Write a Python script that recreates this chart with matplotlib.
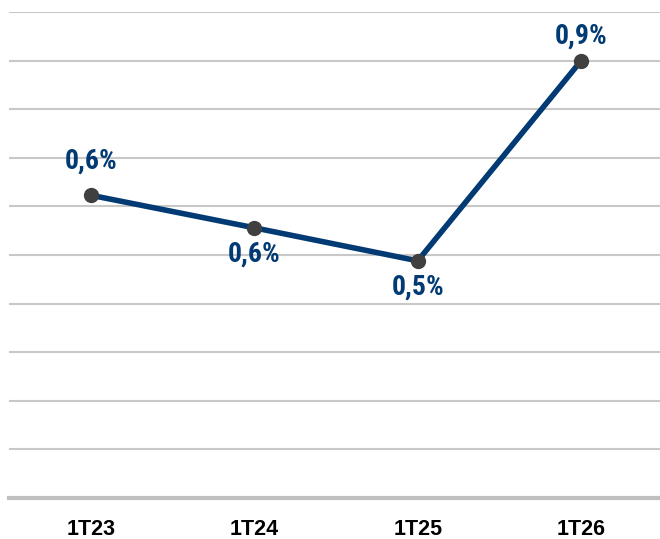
import matplotlib.pyplot as plt
from matplotlib import font_manager

# data
quarters = ['1T23', '1T24', '1T25', '1T26']
rate = [0.623, 0.556, 0.488, 0.90]

names = {f.name for f in font_manager.fontManager.ttflist}
label_font = 'Roboto'
for cand in ['Roboto Condensed', 'Liberation Sans Narrow', 'Open Sans Condensed']:
    if cand in names:
        label_font = cand
        break

# vertical offset from point to label baseline, in points
label_dy = [19.5, -24.5, -24.5, 12]

fig = plt.figure(figsize=(6.6, 5.39), dpi=100)
ax = fig.add_axes([9 / 660, 41 / 539, 654 / 660, 486 / 539])

x = list(range(len(quarters)))
ax.plot(x, rate, color='#023a74', linewidth=4, zorder=3,
        marker='o', markersize=10, markerfacecolor='#404040',
        markeredgecolor='#404040')

for xi, v, dy in zip(x, rate, label_dy):
    txt = f'{v:.1f}'.replace('.', ',') + '%'
    ax.annotate(txt, (xi, v), xytext=(0, dy),
                textcoords='offset points', ha='center', va='baseline',
                fontsize=20, fontweight='bold', color='#023a74',
                family=[label_font, 'DejaVu Sans'])

ax.set_xlim(-0.5, 3.5)
ax.set_ylim(0, 1.0)
ax.set_yticks([i / 10 for i in range(11)])
ax.yaxis.grid(True, color='#c8c8c8', linewidth=1.5)
ax.set_axisbelow(True)
ax.tick_params(axis='y', left=False, labelleft=False)
ax.tick_params(axis='x', length=0, pad=15)
ax.set_xticks(x)
ax.set_xticklabels(quarters, fontsize=15.5, fontweight='bold',
                   family='Liberation Sans')

for side in ['top', 'left', 'right']:
    ax.spines[side].set_visible(False)
ax.spines['bottom'].set_color('#c0c0c0')
ax.spines['bottom'].set_linewidth(3)

fig.savefig('out.png', dpi=100)
